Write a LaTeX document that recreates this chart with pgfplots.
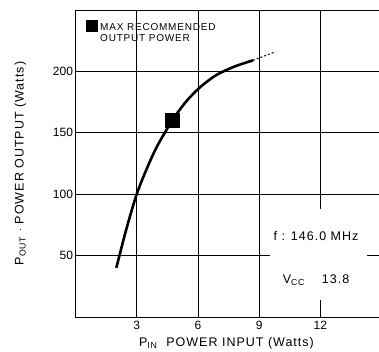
\documentclass[border=0pt]{standalone}
\usepackage{pgfplots}
\pgfplotsset{compat=1.18}
\usepackage{fontspec}
\setmainfont{Liberation Sans}
\newfontfamily\spaced[LetterSpace=8]{Liberation Sans}
\begin{document}
\begin{tikzpicture}
\begin{axis}[
  scale only axis,
  width=306pt, height=307pt,
  xmin=0, xmax=15, ymin=0, ymax=250,
  xtick={3,6,9,12}, ytick={50,100,150,200},
  grid=major,
  major grid style={black, line width=0.8pt},
  axis line style={black, line width=0.9pt},
  tick style={draw=none},
  /pgf/number format/assume math mode=true,
  ticklabel style={font=\fontsize{12}{14}\selectfont},
  xticklabel style={yshift=-1pt},
  yticklabel style={xshift=1pt},
  clip mode=individual,
]
\addplot[black, line width=2.6pt, smooth, tension=0.5] coordinates {
 (2,40) (2.5,72) (3,100) (3.5,121) (4,139) (4.74,160) (5.4,175) (6.1,187) (6.9,197) (7.8,204) (8.7,209)};
\addplot[black, line width=1pt, dash pattern=on 2pt off 2pt] coordinates {(8.7,209) (9.8,216)};
\addplot[only marks, mark=square*, mark size=7pt, black] coordinates {(4.74,160)};
\addplot[only marks, mark=square*, mark size=5.5pt, black] coordinates {(0.8,237)};
\fill[white] (axis cs:9.55,14) rectangle (axis cs:14.3,88);
\node[anchor=west, font=\spaced\fontsize{10}{11}\selectfont, align=left, inner sep=0pt] at (axis cs:1.2,232) {MAX RECOMMENDED\\OUTPUT POWER};
\node[anchor=west, font=\spaced\fontsize{12.5}{14}\selectfont, inner sep=0pt] at (axis cs:9.7,66) {f : 146.0 MHz};
\node[anchor=west, font=\spaced\fontsize{12.5}{14}\selectfont, inner sep=0pt] at (axis cs:10.15,30) {V\textsubscript{CC}\quad\ 13.8};
\node[rotate=90, font=\spaced\fontsize{12.5}{14}\selectfont] at ([xshift=-55pt]rel axis cs:0,0.5) {P\textsubscript{OUT} $\cdot$ POWER OUTPUT (Watts)};
\node[font=\spaced\fontsize{12.5}{14}\selectfont] at ([yshift=-26pt]axis cs:7.4,0) {P\textsubscript{IN}\ \ POWER INPUT (Watts)};
\end{axis}
\pgfresetboundingbox
\path[use as bounding box] (-75.5pt,-34pt) rectangle (303.5pt,317pt);
\end{tikzpicture}
\end{document}
